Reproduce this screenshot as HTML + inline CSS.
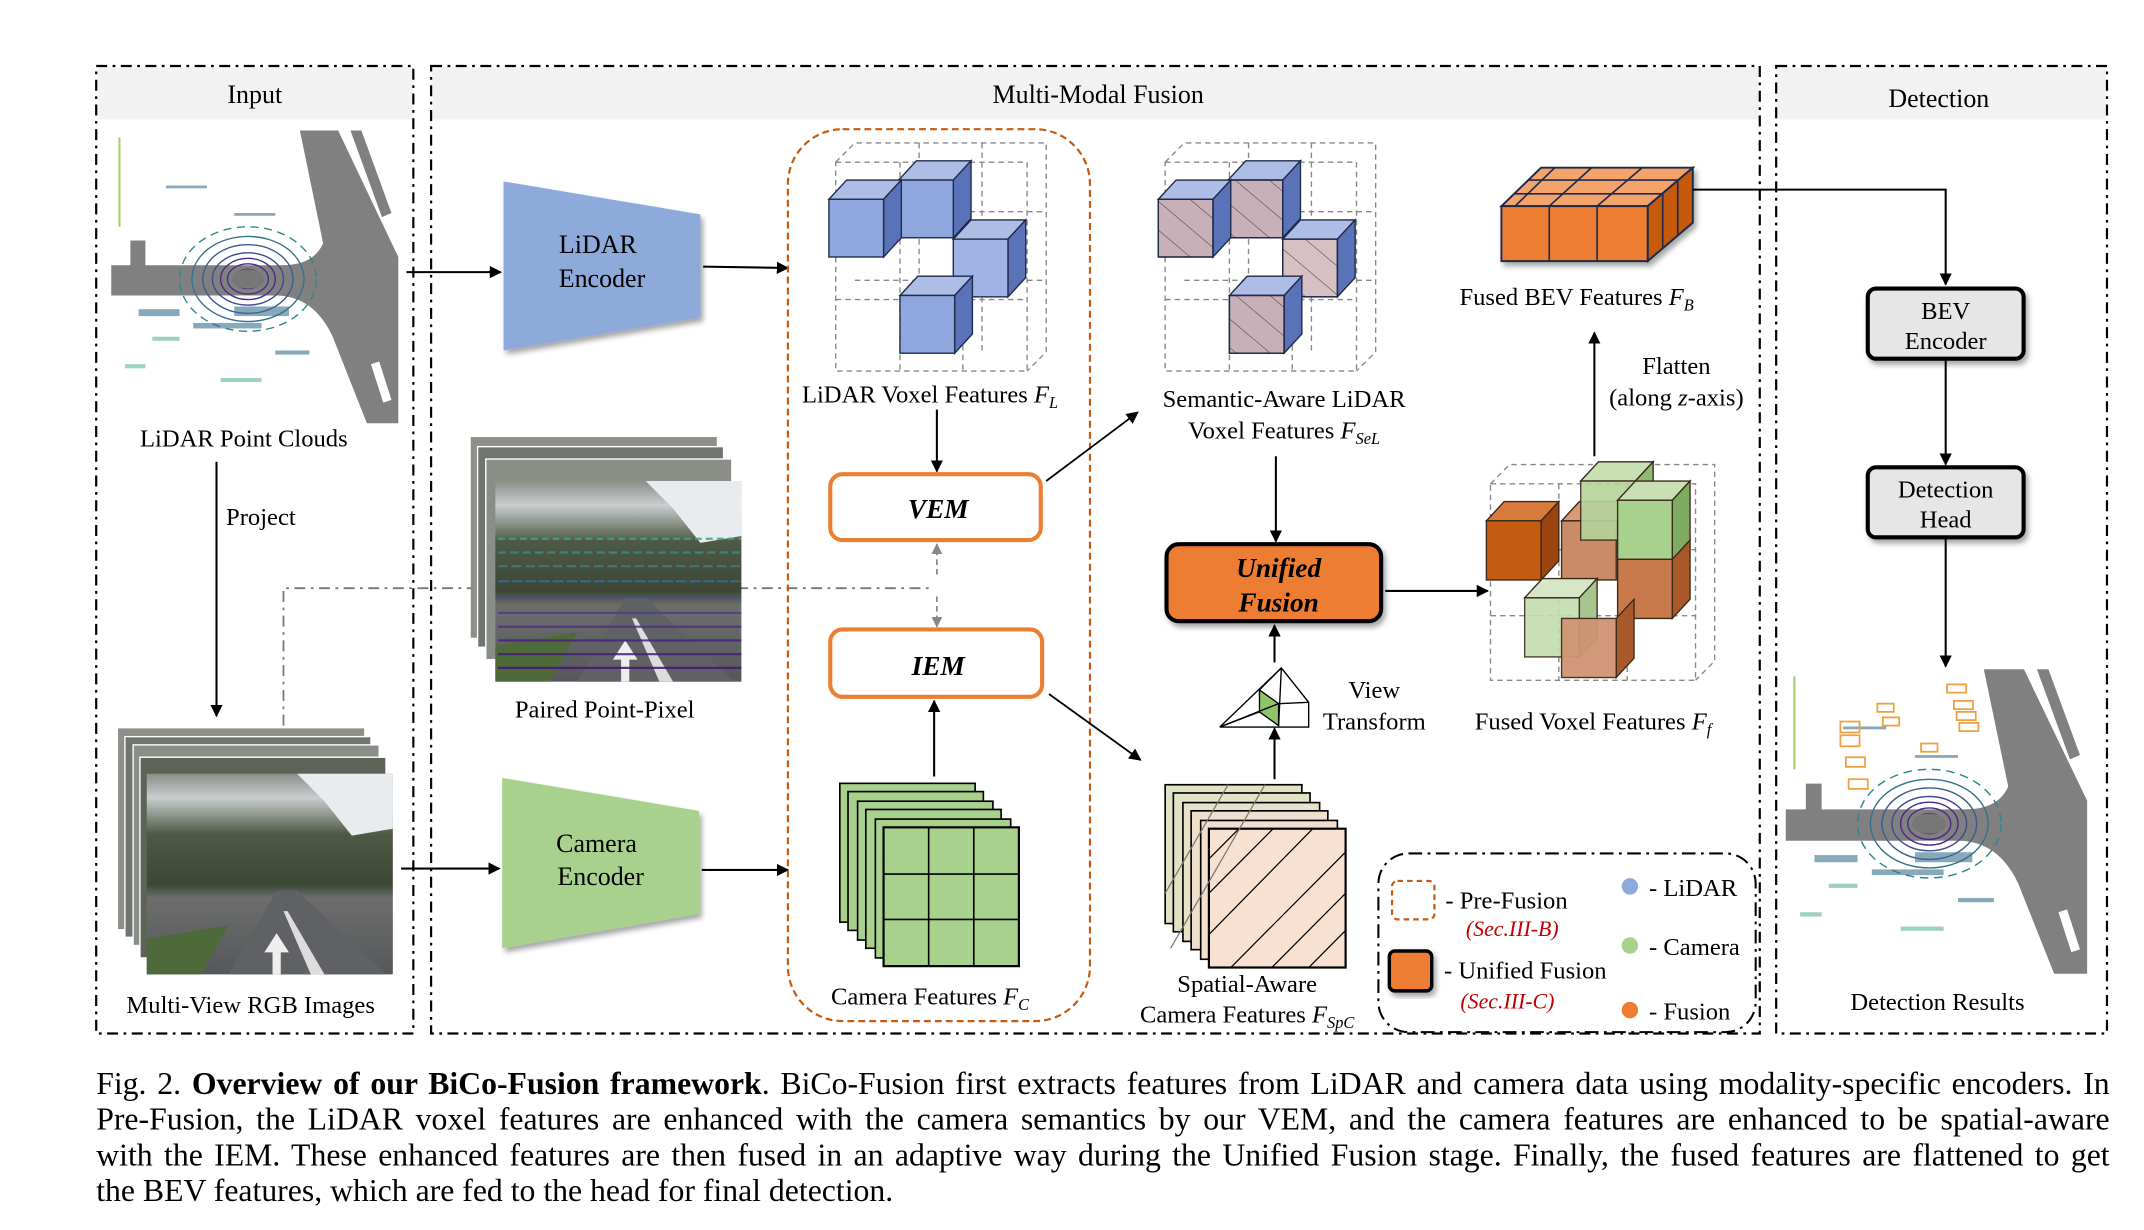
<!DOCTYPE html>
<html><head><meta charset="utf-8"><style>
html,body{margin:0;padding:0;background:#fff;}
#wrap{width:1560px;height:895px;transform:scale(1.37436,1.3743);transform-origin:0 0;position:relative;font-family:"Liberation Serif",serif;}
svg{position:absolute;left:0;top:0;}
svg text{font-family:"Liberation Serif",serif;fill:#000;}
#cap{position:absolute;left:70px;top:775px;width:1465px;font-size:23.1px;line-height:26px;color:#000;}
#cap div{white-space:nowrap;text-align:justify;text-align-last:justify;}
#cap div.last{text-align-last:left;}
</style></head><body><div id="wrap">
<svg width="1560" height="895" viewBox="0 0 1560 895">
<defs>
<marker id="ah" viewBox="0 0 10 10" refX="9" refY="5" markerWidth="9" markerHeight="9" markerUnits="userSpaceOnUse" orient="auto"><path d="M0,0L10,5L0,10z" fill="#000"/></marker>
<marker id="ahg" viewBox="0 0 10 10" refX="9" refY="5" markerWidth="8" markerHeight="8" markerUnits="userSpaceOnUse" orient="auto"><path d="M0,0L10,5L0,10z" fill="#888"/></marker>
<pattern id="hatch" width="16" height="16" patternUnits="userSpaceOnUse" patternTransform="rotate(-50)"><line x1="0" y1="0" x2="0" y2="16" stroke="#444" stroke-width="0.8"/></pattern>
<filter id="sh" x="-10%" y="-10%" width="130%" height="130%"><feDropShadow dx="2" dy="3" stdDeviation="2" flood-color="#000" flood-opacity="0.35"/></filter>
<linearGradient id="cam" x1="0" y1="0" x2="0" y2="1"><stop offset="0" stop-color="#8a8f88"/><stop offset="0.12" stop-color="#c9cdcf"/><stop offset="0.3" stop-color="#4e5a45"/><stop offset="0.55" stop-color="#3c4735"/><stop offset="0.62" stop-color="#6d6e6c"/><stop offset="1" stop-color="#55575a"/></linearGradient>
<g id="pc">
 <rect x="0" y="0" width="210" height="213" fill="#fff"/>
 <path d="M0,98 L125,98 Q148,98 155,82 L138,0 L166,0 L210,92 L210,213 L187,213 L162,150 Q148,120 120,120 L0,120 Z" fill="#808080"/>
 <path d="M125,98 Q152,98 160,84 L170,100 Q150,118 120,120Z" fill="#808080"/>
 <rect x="14" y="80" width="11" height="20" fill="#808080"/>
 <path d="M175,0 L183,0 L205,60 L198,63 Z" fill="#808080"/>
 <path d="M190,170 L196,168 L205,196 L199,198 Z" fill="#fff"/>
 <g fill="none" stroke="#4b2a86" stroke-width="1">
  <ellipse cx="100" cy="108" rx="10" ry="7"/><ellipse cx="100" cy="108" rx="15" ry="11"/><ellipse cx="100" cy="108" rx="20" ry="15"/><ellipse cx="100" cy="108" rx="26" ry="19" stroke="#3e4c8a"/><ellipse cx="100" cy="108" rx="33" ry="25" stroke="#3b5d8c"/><ellipse cx="100" cy="108" rx="41" ry="31" stroke="#33728c"/><ellipse cx="100" cy="108" rx="50" ry="38" stroke="#2d878a" stroke-dasharray="6 4"/>
 </g>
 <ellipse cx="100" cy="108" rx="12" ry="7" fill="#777"/>
 <g fill="#3a6f8e" opacity="0.6"><rect x="20" y="130" width="30" height="5"/><rect x="60" y="140" width="50" height="4"/><rect x="90" y="128" width="40" height="7"/><rect x="30" y="150" width="20" height="3" fill="#5fb49a"/><rect x="120" y="160" width="25" height="3"/><rect x="40" y="40" width="30" height="2"/><rect x="90" y="60" width="30" height="2"/><rect x="10" y="170" width="15" height="3" fill="#5fb49a"/><rect x="80" y="180" width="30" height="3" fill="#5fb49a"/></g>
 <line x1="6" y1="5" x2="6" y2="70" stroke="#9fd36a" stroke-width="1.5"/>
</g>
<g id="img">
 <rect x="0" y="0" width="180" height="146" fill="url(#cam)"/>
 <path d="M60,146 L95,85 L110,85 L175,146 Z" fill="#5f6165"/>
 <path d="M0,120 L60,110 L40,146 L0,146Z" fill="#4f6a3a"/>
 <path d="M120,146 L100,100 L103,100 L130,146Z" fill="#ddd"/>
 <path d="M92,146 L92,130 L86,130 L95,116 L104,130 L98,130 L98,146Z" fill="#eee"/>
 <path d="M110,0 L180,0 L180,40 L150,45 L130,20Z" fill="#e9ecee"/>
</g>
</defs>
<g transform="translate(0.38,0) scale(0.9946,1)">

<rect x="71" y="49" width="231" height="38" fill="#f2f2f2"/>
<rect x="316" y="49" width="970" height="38" fill="#f2f2f2"/>
<rect x="1299" y="49" width="241" height="38" fill="#f2f2f2"/>
<g fill="none" stroke="#000" stroke-width="1.6" stroke-dasharray="8 4 2 4">
<rect x="70" y="48" width="232" height="704"/>
<rect x="315" y="48" width="972" height="704"/>
<rect x="1299" y="48" width="242" height="704"/>
</g>
<text x="186" y="75" font-size="19" text-anchor="middle">Input</text>
<text x="803" y="75" font-size="19" text-anchor="middle">Multi-Modal Fusion</text>
<text x="1418" y="78" font-size="19" text-anchor="middle">Detection</text>

<use href="#pc" x="81" y="95"/>
<text x="178" y="325" font-size="18" text-anchor="middle">LiDAR Point Clouds</text>
<line x1="158" y1="336" x2="158" y2="521" stroke="#000" stroke-width="1.5" marker-end="url(#ah)"/>
<text x="165" y="382" font-size="18">Project</text>
<g>
<rect x="86" y="530" width="180" height="146" fill="#8d9088"/>
<rect x="91" y="536" width="180" height="146" fill="#6f7570" stroke="#fff" stroke-width="1"/>
<rect x="97" y="542" width="180" height="146" fill="#8a8e86" stroke="#fff" stroke-width="1"/>
<rect x="102" y="551" width="180" height="146" fill="#5c6458" stroke="#fff" stroke-width="1"/>
<use href="#img" x="107" y="563"/>
</g>
<text x="183" y="737" font-size="18" text-anchor="middle">Multi-View RGB Images</text>

<path d="M207,528 L207,428 L683,428" fill="none" stroke="#777" stroke-width="1.3" stroke-dasharray="8 4 2 4"/>

<g>
<rect x="344" y="318" width="180" height="146" fill="#8d9088"/>
<rect x="349" y="325" width="180" height="146" fill="#6f7570" stroke="#fff"/>
<rect x="355" y="334" width="180" height="146" fill="#8a8e86" stroke="#fff"/>
<use href="#img" x="362" y="350"/>
<g stroke-width="1.6" opacity="0.85">
<line x1="364" y1="392" x2="542" y2="392" stroke="#3aa58a" stroke-dasharray="5 3"/>
<line x1="364" y1="402" x2="542" y2="402" stroke="#2f8f8f" stroke-dasharray="6 3"/>
<line x1="364" y1="412" x2="542" y2="412" stroke="#3a7d90" stroke-dasharray="7 3"/>
<line x1="364" y1="423" x2="542" y2="423" stroke="#3c6c8e" stroke-dasharray="8 2"/>
<line x1="364" y1="435" x2="542" y2="435" stroke="#46508c"/>
<line x1="364" y1="446" x2="542" y2="446" stroke="#4b3f8a"/>
<line x1="364" y1="456" x2="542" y2="456" stroke="#4a2f84"/>
<line x1="364" y1="466" x2="542" y2="466" stroke="#48207e"/>
<line x1="364" y1="476" x2="542" y2="476" stroke="#461a7a"/>
<line x1="364" y1="486" x2="542" y2="486" stroke="#441574"/>
</g>
</g>
<text x="442" y="522" font-size="18" text-anchor="middle">Paired Point-Pixel</text>

<polygon points="368,132 512,156 512,231 368,255" fill="#8eaadb" filter="url(#sh)"/>
<text x="437" y="184" font-size="19" text-anchor="middle">LiDAR</text>
<text x="440" y="209" font-size="19" text-anchor="middle">Encoder</text>
<polygon points="367,566 511,590 511,665 367,690" fill="#a9d18e" filter="url(#sh)"/>
<text x="436" y="620" font-size="19" text-anchor="middle">Camera</text>
<text x="439" y="644" font-size="19" text-anchor="middle">Encoder</text>
<g stroke="#000" stroke-width="1.5" fill="none" marker-end="url(#ah)">
<line x1="297" y1="198" x2="366" y2="198"/>
<line x1="514" y1="194" x2="576" y2="195"/>
<line x1="293" y1="632" x2="365" y2="632"/>
<line x1="513" y1="633" x2="576" y2="633"/>
</g>

<rect x="576" y="94" width="221" height="649" rx="40" fill="none" stroke="#c55a11" stroke-width="1.6" stroke-dasharray="5 3"/>

<g fill="none" stroke="#888" stroke-width="1" stroke-dasharray="4 3">
<rect x="611" y="118" width="140" height="152"/><polyline points="611,118 625,104 765,104 765,256 751,270"/>
<line x1="611" y1="168" x2="751" y2="168"/><line x1="611" y1="218" x2="751" y2="218"/>
<line x1="658" y1="118" x2="658" y2="270"/><line x1="704" y1="118" x2="704" y2="270"/>
<line x1="625" y1="154" x2="765" y2="154"/><line x1="625" y1="204" x2="765" y2="204"/>
<line x1="672" y1="104" x2="672" y2="256"/><line x1="718" y1="104" x2="718" y2="256"/>
</g>
<g stroke="#1f2a4a" stroke-width="1">
<polygon points="657,131 670,117 710,117 697,131" fill="#aebde6"/><polygon points="697,131 710,117 710,159 697,173" fill="#5a73b8"/><rect x="657" y="131" width="40" height="42" fill="#8fa6de"/>
<polygon points="606,145 619,131 659,131 646,145" fill="#aebde6"/><polygon points="646,145 659,131 659,173 646,187" fill="#5a73b8"/><rect x="606" y="145" width="40" height="42" fill="#8fa6de"/>
<polygon points="697,174 710,160 750,160 737,174" fill="#aebde6"/><polygon points="737,174 750,160 750,202 737,216" fill="#5a73b8"/><rect x="697" y="174" width="40" height="42" fill="#9fb3e6"/>
<polygon points="658,215 671,201 711,201 698,215" fill="#aebde6"/><polygon points="698,215 711,201 711,243 698,257" fill="#5a73b8"/><rect x="658" y="215" width="40" height="42" fill="#8fa6de"/>
</g>
<text x="680" y="293" font-size="18" text-anchor="middle">LiDAR Voxel Features <tspan font-style="italic">F</tspan><tspan font-style="italic" font-size="12" dy="4">L</tspan></text>

<line x1="685" y1="298" x2="685" y2="343" stroke="#000" stroke-width="1.5" marker-end="url(#ah)"/>
<rect x="607" y="345" width="154" height="48" rx="9" fill="#fff" stroke="#ed7d31" stroke-width="3"/>
<text x="686" y="377" font-size="20" font-weight="bold" font-style="italic" text-anchor="middle">VEM</text>
<rect x="607" y="458" width="155" height="49" rx="9" fill="#fff" stroke="#ed7d31" stroke-width="3"/>
<text x="686" y="491" font-size="20" font-weight="bold" font-style="italic" text-anchor="middle">IEM</text>
<line x1="685" y1="418" x2="685" y2="396" stroke="#888" stroke-width="1.3" stroke-dasharray="4 3" marker-end="url(#ahg)"/>
<line x1="685" y1="434" x2="685" y2="456" stroke="#888" stroke-width="1.3" stroke-dasharray="4 3" marker-end="url(#ahg)"/>
<line x1="683" y1="565" x2="683" y2="510" stroke="#000" stroke-width="1.5" marker-end="url(#ah)"/>

<g stroke="#000" stroke-width="1.2" fill="#a9d18e">
<rect x="614" y="570" width="99" height="101"/><rect x="620" y="576" width="99" height="101"/><rect x="627" y="583" width="99" height="101"/><rect x="633" y="589" width="99" height="101"/><rect x="640" y="596" width="99" height="101"/>
<rect x="646" y="602" width="99" height="101" stroke-width="1.6"/>
<line x1="679" y1="602" x2="679" y2="703"/><line x1="712" y1="602" x2="712" y2="703"/><line x1="646" y1="636" x2="745" y2="636"/><line x1="646" y1="669" x2="745" y2="669"/>
</g>
<text x="680" y="731" font-size="18" text-anchor="middle">Camera Features <tspan font-style="italic">F</tspan><tspan font-style="italic" font-size="12" dy="4">C</tspan></text>

<g stroke="#000" stroke-width="1.3" fill="none" marker-end="url(#ah)">
<line x1="765" y1="350" x2="832" y2="300"/>
<line x1="767" y1="505" x2="834" y2="553"/>
</g>

<g fill="none" stroke="#888" stroke-width="1" stroke-dasharray="4 3">
<rect x="852" y="118" width="140" height="152"/><polyline points="852,118 866,104 1006,104 1006,256 992,270"/>
<line x1="852" y1="168" x2="992" y2="168"/><line x1="852" y1="218" x2="992" y2="218"/>
<line x1="899" y1="118" x2="899" y2="270"/><line x1="945" y1="118" x2="945" y2="270"/>
<line x1="866" y1="154" x2="1006" y2="154"/><line x1="866" y1="204" x2="1006" y2="204"/>
<line x1="913" y1="104" x2="913" y2="256"/><line x1="959" y1="104" x2="959" y2="256"/>
</g>
<g stroke="#1f2a4a" stroke-width="1">
<polygon points="898,131 911,117 951,117 938,131" fill="#aebde6"/><polygon points="938,131 951,117 951,159 938,173" fill="#5a73b8"/><rect x="898" y="131" width="40" height="42" fill="#c8b0b8"/><rect x="898" y="131" width="40" height="42" fill="url(#hatch)"/>
<polygon points="847,145 860,131 900,131 887,145" fill="#aebde6"/><polygon points="887,145 900,131 900,173 887,187" fill="#5a73b8"/><rect x="847" y="145" width="40" height="42" fill="#c8b0b8"/><rect x="847" y="145" width="40" height="42" fill="url(#hatch)"/>
<polygon points="938,174 951,160 991,160 978,174" fill="#aebde6"/><polygon points="978,174 991,160 991,202 978,216" fill="#5a73b8"/><rect x="938" y="174" width="40" height="42" fill="#d6c0c4"/><rect x="938" y="174" width="40" height="42" fill="url(#hatch)"/>
<polygon points="899,215 912,201 952,201 939,215" fill="#aebde6"/><polygon points="939,215 952,201 952,243 939,257" fill="#5a73b8"/><rect x="899" y="215" width="40" height="42" fill="#c8b0b8"/><rect x="899" y="215" width="40" height="42" fill="url(#hatch)"/>
</g>
<text x="939" y="296" font-size="18" text-anchor="middle">Semantic-Aware LiDAR</text>
<text x="939" y="319" font-size="18" text-anchor="middle">Voxel Features <tspan font-style="italic">F</tspan><tspan font-style="italic" font-size="12" dy="4">SeL</tspan></text>

<line x1="933" y1="332" x2="933" y2="394" stroke="#000" stroke-width="1.5" marker-end="url(#ah)"/>
<rect x="853" y="396" width="157" height="56" rx="9" fill="#ed7d31" stroke="#000" stroke-width="3" filter="url(#sh)"/>
<text x="935" y="420" font-size="20" font-weight="bold" font-style="italic" text-anchor="middle">Unified</text>
<text x="935" y="445" font-size="20" font-weight="bold" font-style="italic" text-anchor="middle">Fusion</text>
<line x1="1013" y1="430" x2="1088" y2="430" stroke="#000" stroke-width="1.5" marker-end="url(#ah)"/>
<line x1="932" y1="482" x2="932" y2="455" stroke="#000" stroke-width="1.5" marker-end="url(#ah)"/>
<line x1="932" y1="567" x2="932" y2="530" stroke="#000" stroke-width="1.5" marker-end="url(#ah)"/>
<g stroke="#000" stroke-width="1" fill="none">
<polygon points="921,502 935,512 935,528 921,518" fill="#8fc46a"/>
<polyline points="892,529 937,486 957,511 957,529 892,529"/>
<line x1="892" y1="529" x2="935" y2="512"/><line x1="937" y1="486" x2="935" y2="528"/><line x1="937" y1="486" x2="921" y2="502"/><line x1="892" y1="529" x2="921" y2="518"/><line x1="957" y1="511" x2="935" y2="512"/>
</g>
<text x="1005" y="508" font-size="18" text-anchor="middle">View</text>
<text x="1005" y="531" font-size="18" text-anchor="middle">Transform</text>

<g stroke="#000" stroke-width="1.2">
<rect x="852" y="571" width="100" height="101" fill="#dfe3c3"/><rect x="858" y="577" width="100" height="101" fill="#e2e3c6"/><rect x="865" y="584" width="100" height="101" fill="#e8e2c9"/><rect x="871" y="590" width="100" height="101" fill="#eee0cb"/><rect x="878" y="597" width="100" height="101" fill="#f3dfcd"/>
<rect x="884" y="603" width="100" height="101" fill="#f8e1d0" stroke-width="1.6"/>
</g>
<g stroke="#000" stroke-width="0.9">
<line x1="884" y1="680" x2="960" y2="603"/><line x1="884" y1="650" x2="931" y2="603"/><line x1="884" y1="625" x2="906" y2="603"/><line x1="900" y1="704" x2="984" y2="620"/><line x1="930" y1="704" x2="984" y2="650"/><line x1="957" y1="704" x2="984" y2="677"/>
<line x1="852" y1="650" x2="898" y2="571" stroke="#777"/><line x1="856" y1="690" x2="925" y2="571" stroke="#777"/>
</g>
<text x="912" y="722" font-size="18" text-anchor="middle">Spatial-Aware</text>
<text x="912" y="744" font-size="18" text-anchor="middle">Camera Features <tspan font-style="italic">F</tspan><tspan font-style="italic" font-size="12" dy="4">SpC</tspan></text>

<g fill="none" stroke="#888" stroke-width="1" stroke-dasharray="4 3">
<rect x="1090" y="352" width="150" height="143"/><polyline points="1090,352 1104,338 1254,338 1254,481 1240,495"/>
<line x1="1090" y1="400" x2="1240" y2="400"/><line x1="1090" y1="448" x2="1240" y2="448"/>
<line x1="1140" y1="352" x2="1140" y2="495"/><line x1="1190" y1="352" x2="1190" y2="495"/>
</g>
<g stroke="#3b2a1a" stroke-width="1">
<polygon points="1142,379 1155,365 1195,365 1182,379" fill="#d99a74"/><rect x="1142" y="379" width="40" height="43" fill="#c98c66"/>
<polygon points="1156,350 1169,336 1209,336 1196,350" fill="#c9dfb4"/><polygon points="1196,350 1209,336 1209,379 1196,393" fill="#8fb872"/><rect x="1156" y="350" width="40" height="43" fill="#b5d39b" opacity="0.9"/>
<polygon points="1183,364 1196,350 1236,350 1223,364" fill="#c9dfb4"/><polygon points="1223,364 1236,350 1236,393 1223,407" fill="#7faa62"/><rect x="1183" y="364" width="40" height="43" fill="#a9d18e"/>
<polygon points="1087,379 1100,365 1140,365 1127,379" fill="#d77a3a"/><polygon points="1127,379 1140,365 1140,408 1127,422" fill="#9c4410"/><rect x="1087" y="379" width="40" height="43" fill="#c55a11"/>
<polygon points="1223,407 1236,393 1236,436 1223,450" fill="#a9582a"/><rect x="1183" y="407" width="40" height="43" fill="#c97a4c"/>
<polygon points="1115,435 1128,421 1168,421 1155,435" fill="#d6e6c6"/><polygon points="1155,435 1168,421 1168,464 1155,478" fill="#a7c58e"/><rect x="1115" y="435" width="40" height="43" fill="#c4dcae" opacity="0.9"/>
<polygon points="1182,450 1195,436 1195,479 1182,493" fill="#a9582a"/><rect x="1142" y="450" width="40" height="43" fill="#cf9472" opacity="0.95"/>
</g>
<text x="1165" y="531" font-size="18" text-anchor="middle">Fused Voxel Features <tspan font-style="italic">F</tspan><tspan font-style="italic" font-size="12" dy="4">f</tspan></text>

<line x1="1166" y1="332" x2="1166" y2="242" stroke="#000" stroke-width="1.5" marker-end="url(#ah)"/>
<text x="1226" y="272" font-size="18" text-anchor="middle">Flatten</text>
<text x="1226" y="295" font-size="18" text-anchor="middle">(along <tspan font-style="italic">z</tspan>-axis)</text>

<g stroke="#1f2a4a" stroke-width="1.4" filter="url(#sh)">
<polygon points="1098,150 1127,122 1238,122 1205,150" fill="#f4a46a"/>
<polygon points="1205,150 1238,122 1238,162 1205,190" fill="#c55a11"/>
<rect x="1098" y="150" width="107" height="40" fill="#ed7d31"/>
</g>
<g stroke="#1f2a4a" stroke-width="1.2">
<line x1="1133" y1="150" x2="1133" y2="190"/><line x1="1168" y1="150" x2="1168" y2="190"/>
<line x1="1137" y1="122" x2="1108" y2="150"/>
<line x1="1164" y1="122" x2="1133" y2="150"/><line x1="1201" y1="122" x2="1168" y2="150"/>
<line x1="1108" y1="141" x2="1215" y2="141"/><line x1="1118" y1="131" x2="1227" y2="131"/>
<line x1="1216" y1="141" x2="1216" y2="181"/><line x1="1227" y1="131" x2="1227" y2="172"/>
</g>
<text x="1153" y="222" font-size="18" text-anchor="middle">Fused BEV Features <tspan font-style="italic">F</tspan><tspan font-style="italic" font-size="12" dy="4">B</tspan></text>
<polyline points="1238,138 1423,138 1423,207" fill="none" stroke="#000" stroke-width="1.5" marker-end="url(#ah)"/>

<rect x="1366" y="210" width="114" height="51" rx="6" fill="#e7e6e6" stroke="#000" stroke-width="3" filter="url(#sh)"/>
<text x="1423" y="232" font-size="18" text-anchor="middle">BEV</text>
<text x="1423" y="254" font-size="18" text-anchor="middle">Encoder</text>
<line x1="1423" y1="262" x2="1423" y2="338" stroke="#000" stroke-width="1.5" marker-end="url(#ah)"/>
<rect x="1366" y="340" width="114" height="51" rx="6" fill="#e7e6e6" stroke="#000" stroke-width="3" filter="url(#sh)"/>
<text x="1423" y="362" font-size="18" text-anchor="middle">Detection</text>
<text x="1423" y="384" font-size="18" text-anchor="middle">Head</text>
<line x1="1423" y1="392" x2="1423" y2="485" stroke="#000" stroke-width="1.5" marker-end="url(#ah)"/>
<g transform="translate(1306,487) scale(1.05,1.04)"><use href="#pc"/></g>
<g fill="none" stroke="#f0a040" stroke-width="1.3">
<rect x="1346" y="525" width="14" height="8"/><rect x="1346" y="535" width="14" height="8"/><rect x="1350" y="551" width="14" height="7"/><rect x="1352" y="567" width="14" height="7"/>
<rect x="1373" y="512" width="12" height="6"/><rect x="1377" y="522" width="12" height="6"/><rect x="1424" y="498" width="14" height="6"/>
<rect x="1429" y="510" width="14" height="6"/><rect x="1431" y="518" width="14" height="6"/><rect x="1433" y="526" width="14" height="6"/><rect x="1405" y="541" width="12" height="6"/>
</g>
<text x="1417" y="735" font-size="18" text-anchor="middle">Detection Results</text>

<rect x="1008" y="621" width="276" height="130" rx="22" fill="#fff" stroke="#000" stroke-width="1.5" stroke-dasharray="10 4 2 4"/>
<rect x="1018" y="641" width="31" height="28" rx="4" fill="none" stroke="#c55a11" stroke-width="1.6" stroke-dasharray="4 3"/>
<text x="1057" y="661" font-size="18">- Pre-Fusion</text>
<text x="1072" y="681" font-size="16" font-style="italic" style="fill:#c00000">(Sec.III-B)</text>
<rect x="1016" y="692" width="31" height="29" rx="4" fill="#ed7d31" stroke="#000" stroke-width="2.5" filter="url(#sh)"/>
<text x="1056" y="712" font-size="18">- Unified Fusion</text>
<text x="1068" y="734" font-size="16" font-style="italic" style="fill:#c00000">(Sec.III-C)</text>
<circle cx="1192" cy="645" r="6" fill="#8eaadb"/><text x="1206" y="652" font-size="18">- LiDAR</text>
<circle cx="1192" cy="688" r="6" fill="#a9d18e"/><text x="1206" y="695" font-size="18">- Camera</text>
<circle cx="1192" cy="735" r="6" fill="#ed7d31"/><text x="1206" y="742" font-size="18">- Fusion</text>
</g>
</svg>
<div id="cap">
<div>Fig. 2. <b>Overview of our BiCo-Fusion framework</b>. BiCo-Fusion first extracts features from LiDAR and camera data using modality-specific encoders. In</div>
<div>Pre-Fusion, the LiDAR voxel features are enhanced with the camera semantics by our VEM, and the camera features are enhanced to be spatial-aware</div>
<div>with the IEM. These enhanced features are then fused in an adaptive way during the Unified Fusion stage. Finally, the fused features are flattened to get</div>
<div class="last">the BEV features, which are fed to the head for final detection.</div>
</div>
</div></body></html>
